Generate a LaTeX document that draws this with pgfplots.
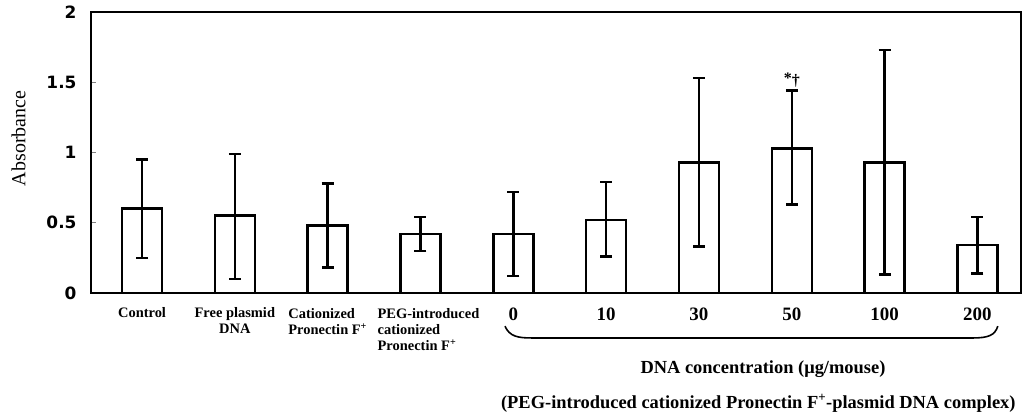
\documentclass[border=0pt]{standalone}
\usepackage{pgfplots}
\pgfplotsset{compat=1.18}
\usepackage{pgfplotstable}
\usepackage{fontspec}
\setmainfont{Liberation Serif}
\newfontfamily\ticksans{DejaVu Sans}
\pgfplotstableread{
x y ep em
0 0.60 0.35 0.35
1 0.55 0.44 0.45
2 0.48 0.30 0.30
3 0.42 0.12 0.12
4 0.42 0.30 0.30
5 0.52 0.27 0.26
6 0.93 0.60 0.60
7 1.03 0.41 0.40
8 0.93 0.80 0.80
9 0.34 0.20 0.20
}\datatab
\begin{document}
\begin{tikzpicture}
\begin{axis}[
  name=ax,
  scale only axis,
  width=930bp, height=281bp,
  xmin=-0.55, xmax=9.47, ymin=0, ymax=2,
  axis line style={line width=1.8bp},
  clip=false,
  ybar, bar width=40bp,
  xtick={0,...,9},
  xtick style={draw=none},
  xticklabels={
    {Control},
    {Free plasmid\\DNA},
    {\begin{tabular}{@{}l@{}}Cationized\\Pronectin F\textsuperscript{+}\end{tabular}},
    {\hspace*{16bp}\begin{tabular}{@{}l@{}}PEG-introduced\\cationized\\Pronectin F\textsuperscript{+}\end{tabular}},
    {\fontsize{19}{19}\selectfont 0},
    {\fontsize{19}{19}\selectfont 10},
    {\fontsize{19}{19}\selectfont 30},
    {\fontsize{19}{19}\selectfont 50},
    {\fontsize{19}{19}\selectfont 100},
    {\fontsize{19}{19}\selectfont 200}},
  xticklabel style={align=center, anchor=north, yshift=-6bp,
    font=\fontsize{14.5}{16}\selectfont\bfseries},
  ytick={0,0.5,1,1.5,2},
  yticklabels={0,0.5,1,1.5,2},
  ytick align=inside,
  ytick pos=left,
  major tick length=5bp,
  ytick style={line width=1.2bp},
  yticklabel style={font=\fontsize{17}{17}\selectfont\ticksans\bfseries, xshift=-11bp},
  /pgf/number format/assume math mode=true,
  ylabel={Absorbance},
  ylabel style={at={(rel axis cs:-0.078,0.55)}, anchor=center, font=\fontsize{20}{20}\selectfont},
]
\addplot[draw=black, fill=white, line width=2.5bp,
  error bars/.cd, y dir=both, y explicit,
  error bar style={line width=2.5bp, black},
  error mark options={rotate=90, mark size=6bp, line width=2.5bp, black}]
  table[x=x, y=y, y error plus=ep, y error minus=em] {\datatab};
\node[anchor=south, font=\fontsize{16}{16}\selectfont\bfseries] at (axis cs:7,1.44) {*\raisebox{-2bp}{\textdagger}};
\draw[line width=1.6bp] (axis cs:3.91,-0.236) .. controls (axis cs:3.96,-0.31) and (axis cs:4.05,-0.32) .. (axis cs:4.2,-0.32) -- (axis cs:8.95,-0.32) .. controls (axis cs:9.12,-0.32) and (axis cs:9.19,-0.30) .. (axis cs:9.22,-0.236);
\node[font=\fontsize{18.5}{18.5}\selectfont\bfseries] at (axis cs:6.69,-0.543) {DNA concentration (μg/mouse)};
\node[font=\fontsize{18.5}{18.5}\selectfont\bfseries] at (axis cs:6.64,-0.786) {(PEG-introduced cationized Pronectin F\textsuperscript{+}-plasmid DNA complex)};
\end{axis}
\pgfresetboundingbox
\useasboundingbox (ax.south west) ++(-91bp,-124bp) rectangle ++(1031bp,417bp);
\end{tikzpicture}
\end{document}
